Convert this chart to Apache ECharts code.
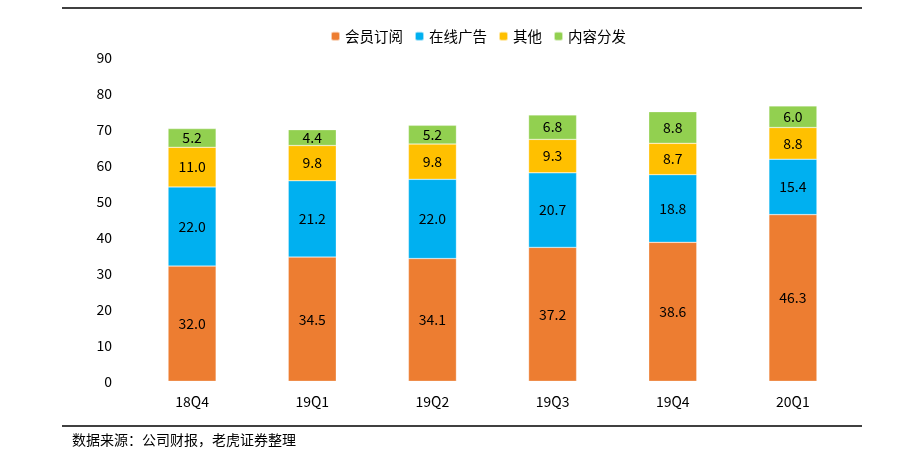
<!DOCTYPE html>
<html><head><meta charset="utf-8">
<script src="https://cdn.jsdelivr.net/npm/echarts@6/dist/echarts.min.js"></script>
<style>html,body{margin:0;padding:0;background:#fff}#c{width:902px;height:460px}</style>
</head><body><div id="c"></div>
<script>
const categories = ['18Q4','19Q1','19Q2','19Q3','19Q4','20Q1'];
const seriesNames = ['会员订阅','在线广告','其他','内容分发'];
const membership = [32.0, 34.5, 34.1, 37.2, 38.6, 46.3];
const onlineAds = [22.0, 21.2, 22.0, 20.7, 18.8, 15.4];
const others = [11.0, 9.8, 9.8, 9.3, 8.7, 8.8];
const distribution = [5.2, 4.4, 5.2, 6.8, 8.8, 6.0];
const colors = ['#ED7D31','#00B0F0','#FFC000','#92D050'];
const font = '"Microsoft YaHei","Noto Sans CJK SC",sans-serif';
const chart = echarts.init(document.getElementById('c'));
const dataSets = [membership, onlineAds, others, distribution];
chart.setOption({
  animation:false,
  color: colors,
  textStyle:{fontFamily:font},
  legend:{top:24,left:325,itemWidth:9,itemHeight:9,itemGap:11,
    data:seriesNames,textStyle:{fontSize:14.5,color:'#000',fontFamily:font}},
  grid:{left:132,right:49,top:57.3,bottom:78.7,containLabel:false},
  xAxis:{type:'category',data:categories,axisLine:{show:false},axisTick:{show:false},
    axisLabel:{fontSize:14,color:'#000',margin:13,fontFamily:font}},
  yAxis:{type:'value',min:0,max:90,interval:10,splitLine:{show:false},axisLine:{show:false},axisTick:{show:false},
    axisLabel:{fontSize:14,color:'#000',margin:20,fontFamily:font}},
  series: dataSets.map((d,i)=>({
    name:seriesNames[i],type:'bar',stack:'total',barWidth:48,data:d,
    itemStyle:{borderColor:'rgba(255,255,255,0.6)',borderWidth:0.5},
    label:{show:true,position:'inside',fontSize:14,color:'#000',fontFamily:font,
      formatter:p=>p.value.toFixed(1)}
  })),
  graphic:[
    {type:'line',shape:{x1:62,y1:8,x2:862,y2:8},style:{stroke:'#000',lineWidth:1.5}},
    {type:'line',shape:{x1:62,y1:426,x2:862,y2:426},style:{stroke:'#000',lineWidth:1.5}},
    {type:'text',left:72,top:433,style:{text:'数据来源：公司财报，老虎证券整理',fontSize:14,fill:'#000',fontFamily:font}}
  ]
});
</script></body></html>
